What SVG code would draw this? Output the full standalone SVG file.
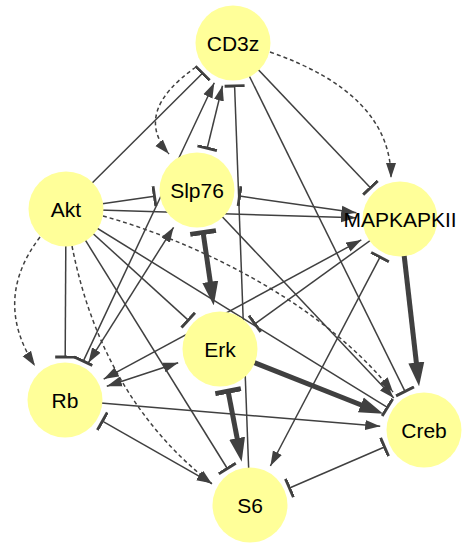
<svg xmlns="http://www.w3.org/2000/svg" width="473" height="550" viewBox="0 0 473 550">
<style>
.e{fill:none;stroke:#404040;stroke-width:1.5}
.k{fill:none;stroke:#404040;stroke-width:5}
.d{fill:none;stroke:#404040;stroke-width:1.5;stroke-dasharray:4 3}
.n{fill:#ffff99}
.t{font-family:"Liberation Sans",Arial,sans-serif;font-size:21px;text-anchor:middle;fill:#000}
</style>
<defs>
<marker id="a" markerUnits="userSpaceOnUse" markerWidth="15" markerHeight="11" refX="15" refY="5.5" orient="auto-start-reverse"><path d="M0,0.5 L15,5.5 L0,10.5 z" fill="#404040"/></marker>
<marker id="t" markerUnits="userSpaceOnUse" markerWidth="4" markerHeight="22" refX="1.5" refY="11" orient="auto-start-reverse"><rect x="0" y="1" width="3" height="20" fill="#404040"/></marker>
<marker id="A" markerUnits="userSpaceOnUse" markerWidth="24" markerHeight="18" refX="12" refY="9" orient="auto-start-reverse"><path d="M0,1 L24,9 L0,17 z" fill="#404040"/></marker>
<marker id="T" markerUnits="userSpaceOnUse" markerWidth="6" markerHeight="28" refX="2.5" refY="14" orient="auto-start-reverse"><rect x="0" y="1" width="5" height="26" fill="#404040"/></marker>
</defs>
<g id="edges">
<path class="e" d="M233,43 L370.4,187.8" marker-end="url(#t)"/>
<path class="e" d="M233,43 L405,391.4" marker-end="url(#t)"/>
<path class="e" d="M250,505 L234.6,86" marker-end="url(#t)"/>
<path class="e" d="M66,209 L202.5,73.3" marker-end="url(#t)"/>
<path class="e" d="M207.2,148.2 L222.5,85.7" marker-start="url(#t)" marker-end="url(#a)"/>
<path class="e" d="M83.3,361.1 L214.3,82.8" marker-start="url(#t)" marker-end="url(#a)"/>
<path class="e" d="M66,209 L154.4,196.2" marker-end="url(#t)"/>
<path class="e" d="M66,209 L356,217.7" marker-end="url(#a)"/>
<path class="e" d="M239.6,196.1 L356.4,212.8" marker-start="url(#t)" marker-end="url(#a)"/>
<path class="e" d="M66,209 L65.2,357" marker-end="url(#t)"/>
<path class="e" d="M66,209 L188.2,320.1" marker-end="url(#t)"/>
<path class="e" d="M66,209 L227.3,468.5" marker-end="url(#t)"/>
<path class="e" d="M66,209 L387.4,407.4" marker-end="url(#t)"/>
<path class="e" d="M173.6,227.3 L88.4,362.7" marker-start="url(#a)" marker-end="url(#a)"/>
<path class="k" d="M203.1,232.5 L212,293.6" marker-start="url(#T)" marker-end="url(#A)"/>
<path class="e" d="M197,190 L393.8,398" marker-end="url(#a)"/>
<path class="k" d="M400,219 L417.7,374.4" marker-end="url(#A)"/>
<path class="e" d="M400,219 L254.9,323.8" marker-end="url(#t)"/>
<path class="e" d="M361.3,239.9 L103.7,379.1" marker-start="url(#a)" marker-end="url(#a)"/>
<path class="e" d="M380,257.1 L270.4,466" marker-start="url(#t)" marker-end="url(#a)"/>
<path class="e" d="M178.2,362.75 L106.8,386.25" marker-start="url(#a)" marker-end="url(#a)"/>
<path class="k" d="M220,349 L372,409.3" marker-end="url(#A)"/>
<path class="k" d="M228.1,391.2 L239.4,450" marker-start="url(#T)" marker-end="url(#A)"/>
<path class="e" d="M65,400 L380.2,426.3" marker-end="url(#a)"/>
<path class="e" d="M102.4,421.2 L211.7,483.3" marker-start="url(#t)" marker-end="url(#a)"/>
<path class="e" d="M289.5,488 L384.5,447" marker-start="url(#t)" marker-end="url(#t)"/>
<path class="d" d="M270,52 Q391,94 391,178" marker-end="url(#a)"/>
<path class="d" d="M196,67 Q132,112 169,154" marker-end="url(#a)"/>
<path class="d" d="M103,216 C190,240 320,300 393,392" marker-end="url(#a)"/>
<path class="d" d="M40,237 Q-8,300 35,366" marker-end="url(#a)"/>
<path class="d" d="M72,246 Q102,398 212,484" marker-end="url(#a)"/>
</g>
<g id="node-CD3z"><circle class="n" cx="233" cy="43" r="37.5"/><text class="t" x="233" y="51">CD3z</text></g>
<g id="node-Slp76"><circle class="n" cx="197" cy="190" r="37.5"/><text class="t" x="197" y="198">Slp76</text></g>
<g id="node-Akt"><circle class="n" cx="66" cy="209" r="37.5"/><text class="t" x="66" y="217">Akt</text></g>
<g id="node-MAPKAPKII"><circle class="n" cx="400" cy="219" r="37.5"/><text class="t" x="400" y="227">MAPKAPKII</text></g>
<g id="node-Erk"><circle class="n" cx="220" cy="349" r="37.5"/><text class="t" x="220" y="357">Erk</text></g>
<g id="node-Rb"><circle class="n" cx="65" cy="400" r="37.5"/><text class="t" x="65" y="408">Rb</text></g>
<g id="node-Creb"><circle class="n" cx="424" cy="430" r="37.5"/><text class="t" x="424" y="438">Creb</text></g>
<g id="node-S6"><circle class="n" cx="250" cy="505" r="37.5"/><text class="t" x="250" y="513">S6</text></g>
</svg>
